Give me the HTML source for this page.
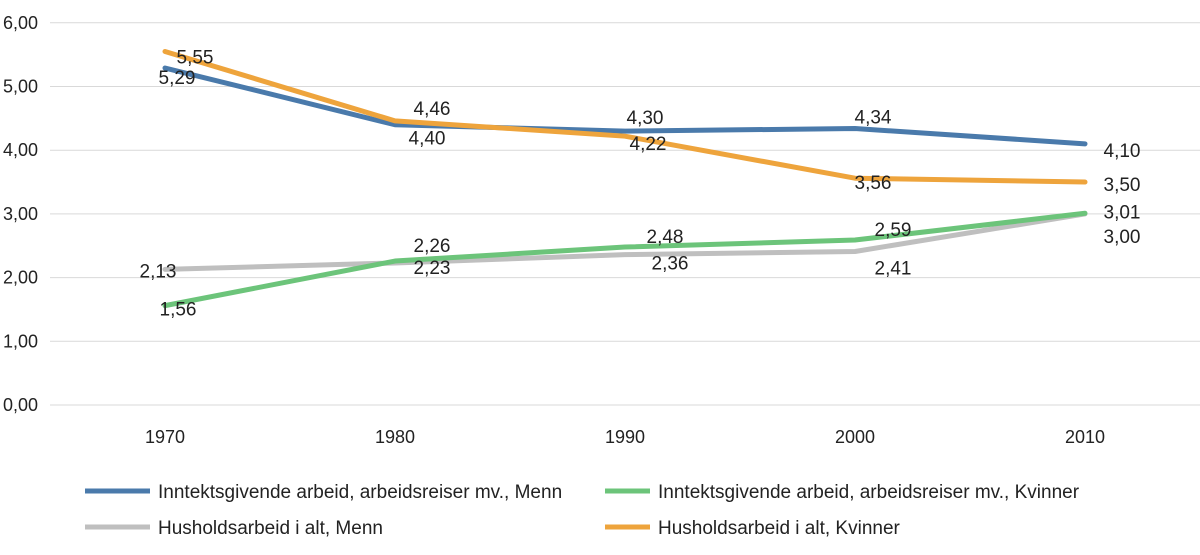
<!DOCTYPE html>
<html><head><meta charset="utf-8"><style>
body{margin:0;background:#fff;}
svg{display:block;font-family:"Liberation Sans",sans-serif;}
</style></head><body>
<svg id="chart" width="1200" height="555">
<g id="grid"></g>
<g id="yaxis"></g>
<g id="xaxis"></g>
<g id="series"></g>
<g id="labels"></g>
<g font-size="19" fill="#222">
 <g><line x1="85" y1="491" x2="150" y2="491" stroke="#4a7aab" stroke-width="5"/><text x="158" y="498">Inntektsgivende arbeid, arbeidsreiser mv., Menn</text></g>
 <g><line x1="605" y1="491" x2="650" y2="491" stroke="#6cc47a" stroke-width="5"/><text x="658" y="498">Inntektsgivende arbeid, arbeidsreiser mv., Kvinner</text></g>
 <g><line x1="85" y1="527" x2="150" y2="527" stroke="#bfbfbf" stroke-width="5"/><text x="158" y="534">Husholdsarbeid i alt, Menn</text></g>
 <g><line x1="605" y1="527" x2="650" y2="527" stroke="#eea43c" stroke-width="5"/><text x="658" y="534">Husholdsarbeid i alt, Kvinner</text></g>
</g>
</svg>
<script>
const categories = ["1970","1980","1990","2000","2010"];
const yTicks = [0,1,2,3,4,5,6];
const workMen = [5.29,4.40,4.30,4.34,4.10];
const workWomen = [1.56,2.26,2.48,2.59,3.01];
const houseMen = [2.13,2.23,2.36,2.41,3.00];
const houseWomen = [5.55,4.46,4.22,3.56,3.50];

const NS="http://www.w3.org/2000/svg";
const y = v => 405 - v*63.7;
const x = i => 165 + i*230;
const fmt = v => v.toFixed(2).replace(".",",");
function mk(tag, attrs, parent){const e=document.createElementNS(NS,tag);for(const k in attrs)e.setAttribute(k,attrs[k]);parent.appendChild(e);return e;}

const grid=document.getElementById("grid"), ya=document.getElementById("yaxis"), xa=document.getElementById("xaxis");
yTicks.forEach(t=>{
  const l=mk("line",{x1:50,x2:1200,y1:y(t),y2:y(t),stroke:"#d9d9d9","stroke-width":1},grid);
  
  
  const tx=mk("text",{x:38,y:y(t)+6,"text-anchor":"end","font-size":18,fill:"#222"},ya);
  tx.textContent=fmt(t);
  
  
});
categories.forEach((c,i)=>{
  const tx=mk("text",{x:x(i),y:443,"text-anchor":"middle","font-size":18,fill:"#222"},xa);
  tx.textContent=c;
  
  
});

const series=[
 {name:"household-men",data:houseMen,color:"#bfbfbf",off:[[-7,1],[37,4],[45,8],[38,16],[37,22]]},
 {name:"work-women",data:workWomen,color:"#6cc47a",off:[[13,3],[37,-16],[40,-11],[38,-11],[37,-2]]},
 {name:"work-men",data:workMen,color:"#4a7aab",off:[[12,9],[32,13],[20,-14],[18,-12],[37,6]]},
 {name:"household-women",data:houseWomen,color:"#eea43c",off:[[30,5],[37,-13],[23,7],[18,4],[37,2]]}
];
const sg=document.getElementById("series"), lg=document.getElementById("labels");
series.forEach(s=>{
  const p=mk("polyline",{points:s.data.map((v,i)=>x(i)+","+y(v)).join(" "),fill:"none",stroke:s.color,"stroke-width":5,"stroke-linejoin":"round","stroke-linecap":"round"},sg);
  
  
});
series.forEach(s=>{
  s.data.forEach((v,i)=>{
    const t=mk("text",{x:x(i)+s.off[i][0],y:y(v)+s.off[i][1]+7,"text-anchor":"middle","font-size":19,fill:"#222"},lg);
    t.textContent=fmt(v);
    
    
  });
});
</script>
</body></html>
